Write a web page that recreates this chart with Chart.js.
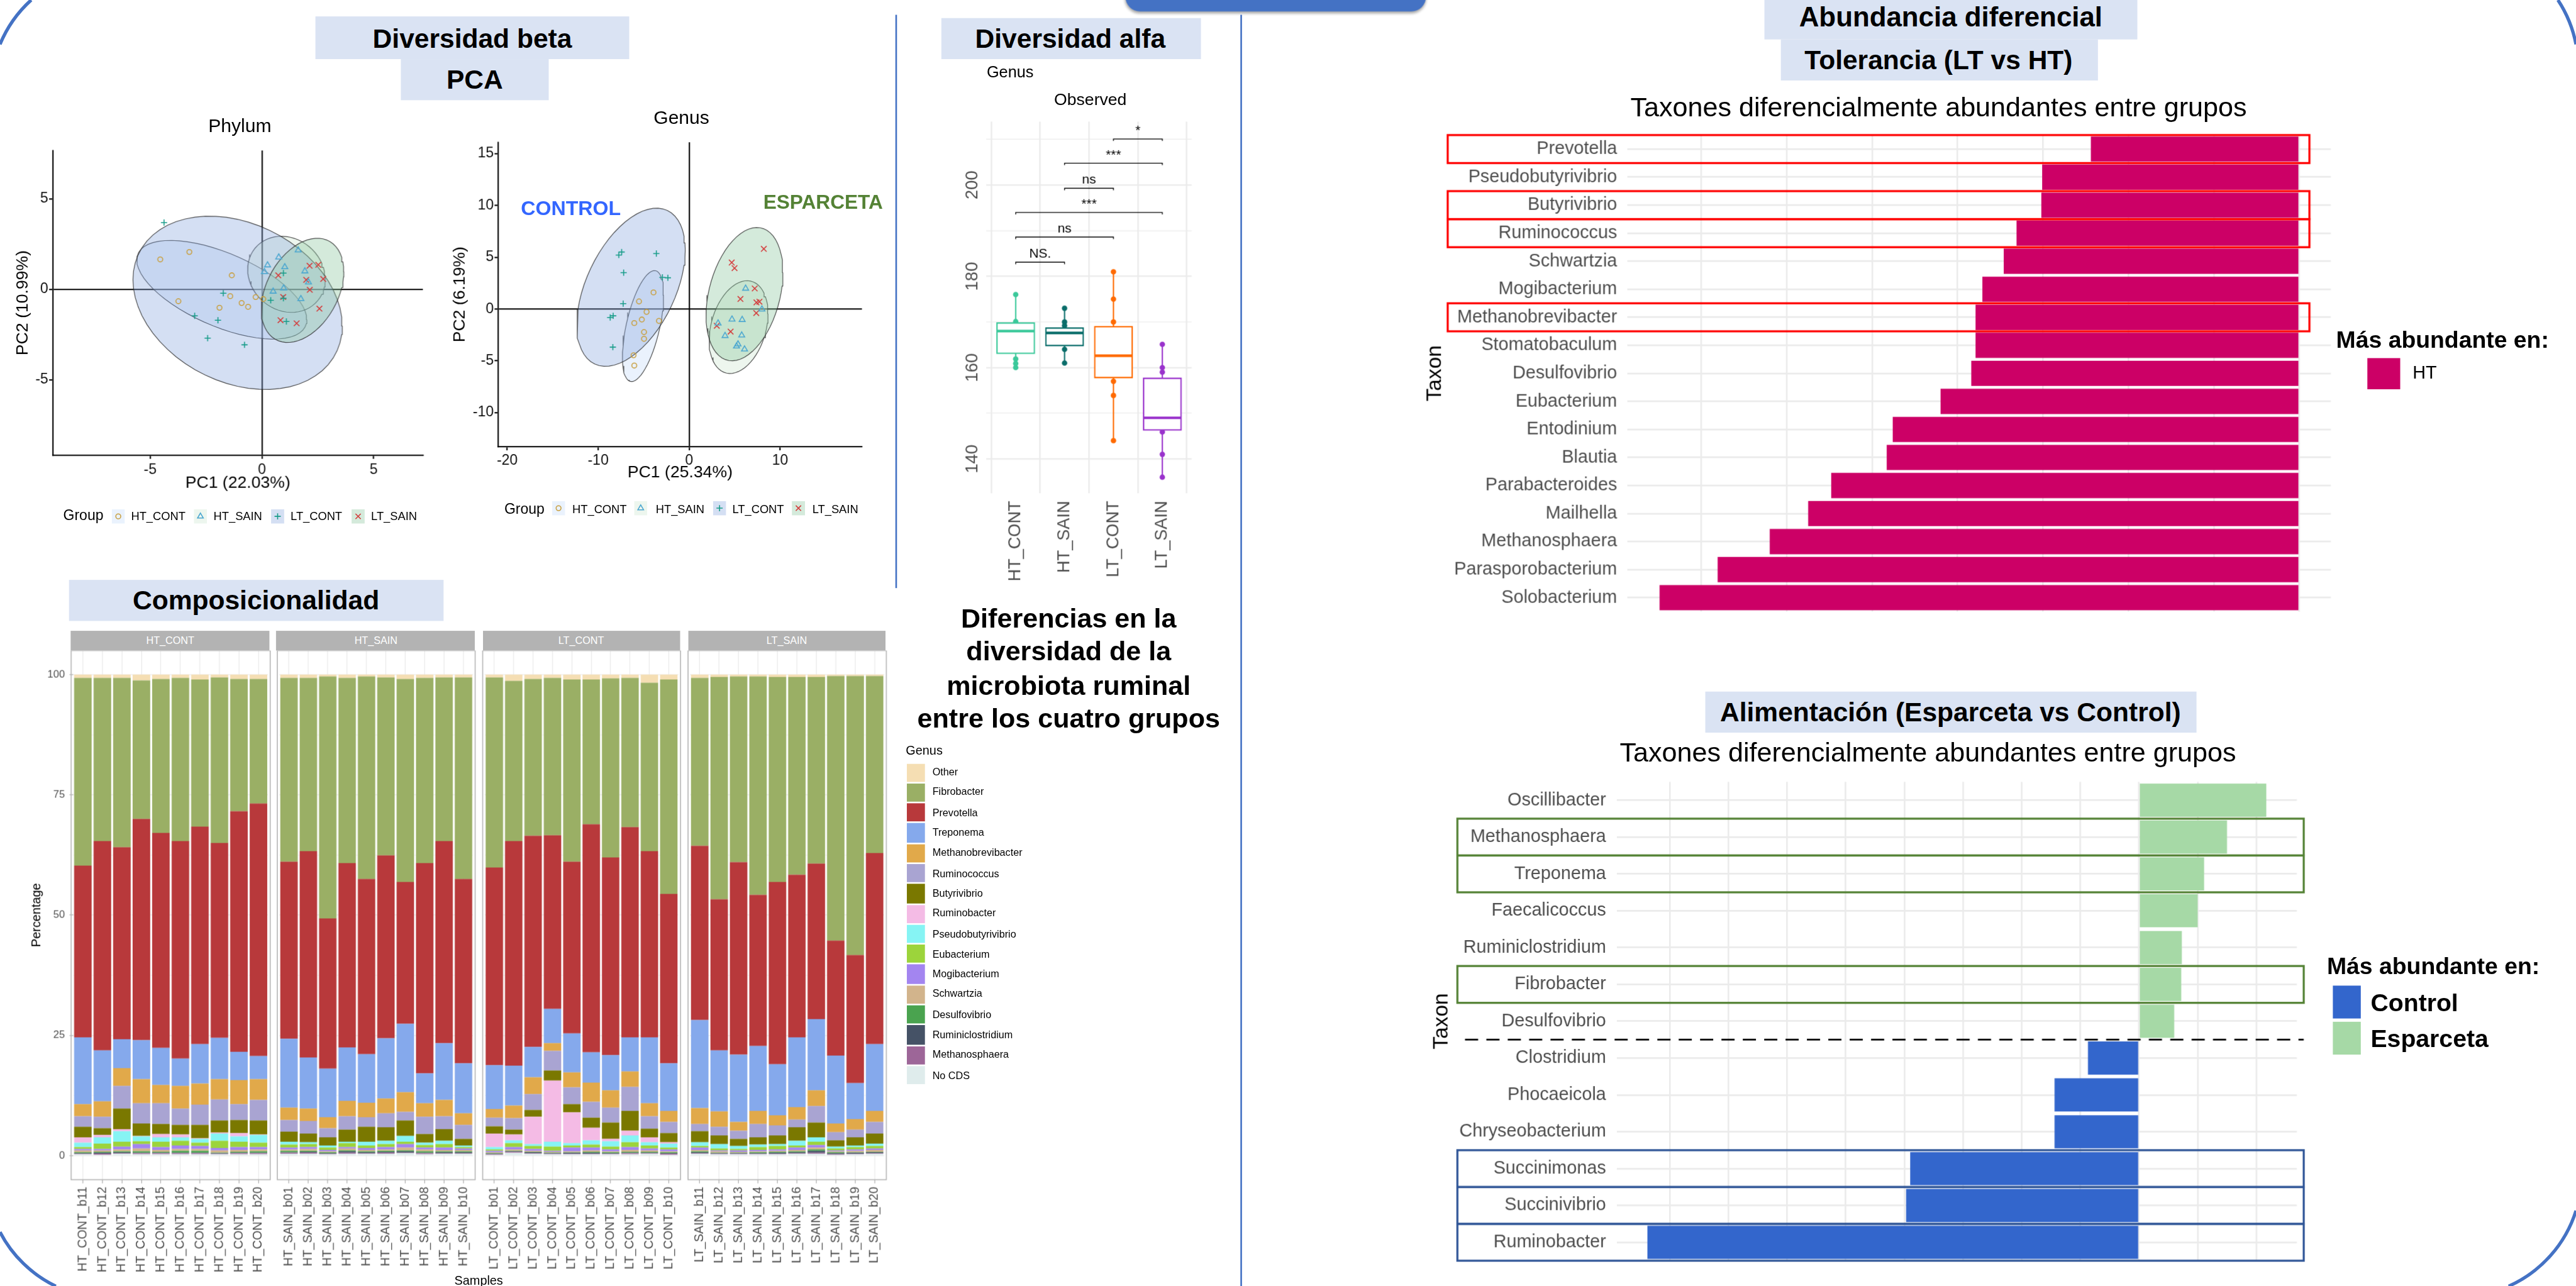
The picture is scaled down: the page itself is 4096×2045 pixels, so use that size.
<!DOCTYPE html>
<html lang="es">
<head>
<meta charset="utf-8">
<title>Diversidad de la microbiota ruminal</title>
<script src="https://cdn.jsdelivr.net/npm/chart.js@4.4.1/dist/chart.umd.min.js"></script>
<style>
  html, body { margin:0; padding:0; background:#fff; }
  body { width:4096px; height:2045px; overflow:hidden; position:relative; }
  #poster { position:absolute; left:0; top:0; width:1568px; height:783px; transform-origin:0 0;
            transform:scale(2.6122449); font-family:"Liberation Sans", Arial, Helvetica, sans-serif; color:#000; }
  .abs { position:absolute; }
  .hdr { position:absolute; background:#dae3f3; font-weight:bold; display:flex; align-items:center;
         justify-content:center; white-space:nowrap; line-height:1; }
  .t { position:absolute; white-space:nowrap; line-height:1; }
  .c { transform:translate(-50%,-50%); }
  .l { transform:translateY(-50%); }
</style>
</head>
<body>
<div id="poster"></div>
<script>
// ---------------- data ----------------
const groups = ['HT_CONT', 'HT_SAIN', 'LT_CONT', 'LT_SAIN'];

// PCA scores (PC1, PC2) per group, in the order of `groups`
const phylumPC1 = [
  [-4.55, -3.25, -1.35, -3.74, -1.42, -1.90, -0.91, -0.62, -0.28, 0.06],
  [1.62, 0.75, 0.25, 1.02, 0.11, 1.92, 2.08, 0.97, 0.50, 1.74],
  [-4.38, -1.73, 0.96, 0.39, 0.96, -3.01, -1.97, 1.09, -2.43, -0.78],
  [2.13, 2.52, 0.73, 1.98, 2.74, 2.14, 0.95, 2.57, 0.83, 1.55]
];
const phylumPC2 = [
  [1.65, 2.06, 0.77, -0.66, -0.38, -1.02, -0.76, -0.97, -0.43, -0.54],
  [2.16, 1.77, 1.33, 1.23, 0.96, 1.00, 0.39, 0.06, -0.12, -0.53],
  [3.69, -0.22, 0.89, -0.61, -0.50, -1.47, -1.71, -1.78, -2.70, -3.07],
  [1.30, 1.35, 0.77, 0.52, 0.57, -0.03, -0.43, -1.07, -1.71, -1.88]
];
const genusPC1 = [
  [-3.92, -5.51, -4.68, -5.20, -6.03, -3.32, -4.96, -4.96, -6.11, -6.03],
  [6.21, 8.00, 4.71, 5.83, 3.18, 3.95, 5.78, 5.37, 5.21, 6.09],
  [-7.42, -7.73, -3.61, -7.20, -2.94, -2.34, -7.25, -8.35, -8.68, -8.39],
  [8.21, 4.68, 4.99, 7.21, 5.64, 7.40, 7.73, 7.38, 3.04, 4.56]
];
const genusPC2 = [
  [1.60, 0.73, -0.28, -1.02, -1.36, -1.15, -2.23, -2.88, -4.47, -5.46],
  [1.98, -0.03, -1.00, -1.04, -1.38, -2.59, -2.54, -3.40, -3.60, -3.89],
  [5.50, 5.21, 5.36, 3.50, 3.05, 3.01, 0.52, -0.66, -0.82, -3.68],
  [5.81, 4.49, 3.95, 1.98, 0.97, 0.63, 0.70, -0.39, -1.62, -2.18]
];

// Alpha diversity (Observed genera): box statistics and drawn points
const obsMin    = [160.0, 161.0, 144.0, 136.0];
const obsQ1     = [163.1, 164.8, 157.8, 146.3];
const obsMedian = [168.0, 167.6, 162.6, 149.0];
const obsQ3     = [169.8, 168.7, 169.0, 157.7];
const obsMax    = [176.0, 173.0, 181.0, 165.1];
const obsPoints = [
  [176.0, 170.1, 161.9, 160.9, 160.0],
  [173.0, 170.0, 169.2, 164.0, 161.0],
  [181.0, 175.0, 170.0, 157.0, 153.9, 144.0],
  [165.1, 160.0, 159.0, 145.9, 141.0, 136.0]
];
// pairwise comparisons
const sigFrom = [1, 1, 1, 2, 2, 3];
const sigTo   = [2, 3, 4, 3, 4, 4];
const sigY    = [183.1, 188.6, 194.0, 199.3, 204.8, 210.1];
const sigText = ['NS.', 'ns', '***', 'ns', '***', '*'];

// Relative abundance (%) per sample
const samplesHT_CONT = ['HT_CONT_b11','HT_CONT_b12','HT_CONT_b13','HT_CONT_b14','HT_CONT_b15','HT_CONT_b16','HT_CONT_b17','HT_CONT_b18','HT_CONT_b19','HT_CONT_b20'];
const samplesHT_SAIN = ['HT_SAIN_b01','HT_SAIN_b02','HT_SAIN_b03','HT_SAIN_b04','HT_SAIN_b05','HT_SAIN_b06','HT_SAIN_b07','HT_SAIN_b08','HT_SAIN_b09','HT_SAIN_b10'];
const samplesLT_CONT = ['LT_CONT_b01','LT_CONT_b02','LT_CONT_b03','LT_CONT_b04','LT_CONT_b05','LT_CONT_b06','LT_CONT_b07','LT_CONT_b08','LT_CONT_b09','LT_CONT_b10'];
const samplesLT_SAIN = ['LT_SAIN_b11','LT_SAIN_b12','LT_SAIN_b13','LT_SAIN_b14','LT_SAIN_b15','LT_SAIN_b16','LT_SAIN_b17','LT_SAIN_b18','LT_SAIN_b19','LT_SAIN_b20'];

const genera = ['Other','Fibrobacter','Prevotella','Treponema','Methanobrevibacter','Ruminococcus','Butyrivibrio',
  'Ruminobacter','Pseudobutyrivibrio','Eubacterium','Mogibacterium','Schwartzia','Desulfovibrio',
  'Ruminiclostridium','Methanosphaera','No CDS'];
const genusColors = ['#f5deb3','#9aaf65','#b8393b','#85a9ec','#e1a94a','#a9a4d2','#7a7800',
  '#f4bbe5','#86f4f4','#9cd43b','#a385f0','#d2b48c','#4aa34f','#455266','#9d6698','#dfecec'];

const pctOther = [0.7,0.7,0.7,1.2,0.9,0.7,1.0,0.6,0.9,0.9, 0.7,0.7,0.4,0.7,0.4,0.6,0.9,0.7,0.6,0.6, 0.6,1.3,0.9,0.7,1.0,1.0,0.8,0.7,1.7,1.0, 0.7,0.5,0.4,0.4,0.5,0.5,0.5,0.3,0.3,0.3];
const pctFibrobacter = [39.0,33.9,35.2,28.8,32.0,33.9,30.6,34.4,27.5,25.9, 38.2,36.0,50.3,38.5,42.1,37.0,42.2,38.5,34.0,41.9, 39.5,33.3,32.6,32.7,37.9,30.1,37.2,31.0,35.0,44.6, 34.9,46.2,38.6,45.4,42.6,41.1,38.8,55.0,58.0,36.8];
const pctPrevotella = [35.7,43.5,39.9,46.0,44.7,45.2,45.2,40.5,50.0,52.5, 36.8,42.9,31.2,38.3,36.4,38.0,29.5,43.7,42.0,38.3, 41.1,46.7,43.9,36.1,35.7,47.4,41.1,43.7,38.7,35.2, 36.2,31.4,40.0,31.4,37.9,33.8,32.3,23.9,26.6,39.7];
const pctTreponema = [13.9,10.6,6.0,8.1,7.7,5.7,8.2,8.6,5.9,4.8, 14.3,10.6,10.1,11.1,10.1,12.5,14.2,6.2,11.8,10.4, 9.1,8.3,6.3,7.1,8.1,6.3,7.3,7.1,13.7,9.9, 18.3,12.7,14.0,13.5,10.6,14.5,14.8,14.1,7.5,13.9];
const pctMethanobrevibacter = [2.5,3.2,3.7,5.0,3.8,4.7,4.4,4.2,5.0,4.3, 2.6,2.6,2.3,3.2,3.0,3.1,4.1,2.8,3.4,2.4, 1.8,2.6,3.5,1.6,3.1,4.0,3.6,3.2,2.7,2.3, 3.3,3.2,1.8,2.7,2.1,2.6,3.3,1.8,2.2,2.3];
const pctRuminococcus = [2.2,2.4,4.7,4.2,4.3,3.4,4.2,4.4,3.3,4.3, 2.4,2.6,1.9,2.8,2.0,2.9,1.8,3.6,2.7,2.9, 1.8,2.4,3.3,4.1,3.5,3.3,3.1,5.0,2.6,2.3, 1.5,1.8,1.7,2.8,2.1,1.6,3.4,1.7,1.6,2.4];
const pctButyrivibrio = [2.2,1.4,4.3,2.6,2.1,2.0,2.8,2.5,2.7,2.9, 2.1,1.8,1.7,2.5,3.1,2.8,3.2,1.8,2.4,1.4, 1.5,1.0,1.4,2.1,1.7,2.1,3.4,4.1,1.8,1.9, 2.3,1.8,1.5,1.5,1.8,2.8,3.1,1.3,1.7,2.1];
const pctRuminobacter = [1.1,0.5,0.4,0.1,0.7,0.6,0.1,0.2,0.7,0.1, 0,0,0,0,0,0,0,0,0,0, 2.8,1.2,5.7,12.7,6.4,2.6,0.5,1.0,1.0,0.3, 0,0,0,0,0,0,0,0,0,0];
const pctPseudobutyrivibrio = [0.9,1.3,2.2,1.0,0.9,0.7,0.8,1.5,1.1,1.6, 0.6,0.4,0.4,0.3,0.8,0.7,1.2,0.5,0.7,0.3, 0.5,0.6,0.4,1.0,0.5,0.9,1.1,1.4,0.7,0.8, 0.8,0.9,0.6,0.5,0.4,1.0,0.9,0.4,0.3,0.5];
const pctEubacterium = [0.4,1.1,1.0,0.6,1.1,1.0,0.7,1.5,1.1,0.9, 0.6,0.6,0.5,0.8,0.5,0.6,0.5,0.5,0.7,0.3, 0.3,0.8,0.6,0.9,0.4,0.6,0.6,1.0,0.6,0.4, 0.3,0.4,0.3,0.6,0.7,0.4,0.7,0.4,0.5,0.5];
const pctMogibacterium = [0.3,0.3,0.6,0.9,0.6,0.7,0.6,0.5,0.6,0.5, 0.4,0.4,0.3,0.3,0.4,0.5,0.7,0.4,0.5,0.3, 0.3,0.5,0.4,0.2,0.8,0.6,0.4,0.6,0.4,0.4, 0.5,0.2,0.3,0.3,0.3,0.5,0.5,0.2,0.3,0.3];
const pctSchwartzia = [0.4,0.3,0.4,0.6,0.4,0.4,0.4,0.5,0.4,0.4, 0.3,0.4,0.2,0.4,0.3,0.3,0.6,0.4,0.3,0.3, 0.2,0.3,0.2,0.2,0.2,0.3,0.2,0.4,0.3,0.2, 0.3,0.3,0.2,0.2,0.2,0.3,0.4,0.2,0.3,0.4];
const pctDesulfovibrio = [0.2,0.2,0.2,0.3,0.2,0.4,0.4,0.1,0.2,0.3, 0.3,0.2,0.2,0.2,0.2,0.2,0.2,0.3,0.2,0.2, 0.1,0.1,0.1,0.1,0.1,0.2,0.2,0.2,0.2,0.2, 0.2,0.1,0.1,0.2,0.2,0.2,0.3,0.2,0.1,0.1];
const pctRuminiclostridium = [0.1,0.2,0.2,0.1,0.1,0.1,0.1,0.1,0.1,0.1, 0.1,0.2,0.1,0.3,0.2,0.2,0.3,0.1,0.2,0.2, 0.1,0.1,0.2,0.1,0.2,0.2,0.1,0.1,0.1,0.1, 0.2,0.1,0.1,0.1,0.2,0.2,0.4,0.2,0.2,0.2];
const pctMethanosphaera = [0.1,0.2,0.1,0.2,0.2,0.2,0.2,0.1,0.2,0.2, 0.2,0.2,0.1,0.2,0.1,0.2,0.1,0.2,0.1,0.1, 0.1,0.2,0.1,0.1,0.1,0.1,0.1,0.2,0.1,0.2, 0.1,0.1,0.1,0.1,0.1,0.1,0.2,0.1,0.1,0.1];
const pctNoCDS = [0.3,0.2,0.4,0.3,0.3,0.3,0.3,0.3,0.3,0.3, 0.4,0.4,0.3,0.4,0.4,0.4,0.5,0.3,0.4,0.4, 0.2,0.6,0.4,0.3,0.3,0.3,0.3,0.3,0.4,0.2, 0.4,0.3,0.3,0.3,0.3,0.4,0.4,0.2,0.3,0.4];
const genusSeries = [pctOther, pctFibrobacter, pctPrevotella, pctTreponema, pctMethanobrevibacter, pctRuminococcus,
  pctButyrivibrio, pctRuminobacter, pctPseudobutyrivibrio, pctEubacterium, pctMogibacterium, pctSchwartzia,
  pctDesulfovibrio, pctRuminiclostridium, pctMethanosphaera, pctNoCDS];

// Differential abundance: tolerance (LT vs HT)
const taxaTolerance = ['Prevotella','Pseudobutyrivibrio','Butyrivibrio','Ruminococcus','Schwartzia','Mogibacterium',
  'Methanobrevibacter','Stomatobaculum','Desulfovibrio','Eubacterium','Entodinium','Blautia','Parabacteroides',
  'Mailhella','Methanosphaera','Parasporobacterium','Solobacterium'];
const scoreTolerance = [-2.44,-3.01,-3.02,-3.31,-3.46,-3.71,-3.79,-3.79,-3.84,-4.20,-4.76,-4.83,-5.48,-5.75,-6.20,-6.81,-7.49];
const markedTolerance = ['Prevotella','Butyrivibrio','Ruminococcus','Methanobrevibacter'];

// Differential abundance: diet (Esparceta vs Control)
const taxaDiet = ['Oscillibacter','Methanosphaera','Treponema','Faecalicoccus','Ruminiclostridium','Fibrobacter',
  'Desulfovibrio','Clostridium','Phocaeicola','Chryseobacterium','Succinimonas','Succinivibrio','Ruminobacter'];
const scoreDiet = [2.17,1.50,1.11,1.00,0.73,0.72,0.60,-0.87,-1.44,-1.44,-3.90,-3.97,-8.38];
const enrichedDiet = ['Esparceta','Esparceta','Esparceta','Esparceta','Esparceta','Esparceta','Esparceta',
  'Control','Control','Control','Control','Control','Control'];
const markedEsparceta = ['Methanosphaera','Treponema','Fibrobacter'];
const markedControl = ['Succinimonas','Succinivibrio','Ruminobacter'];

// ---------------- styling ----------------
const SCALE = 4096 / 1568;
const pointColors = ['#c8a042', '#4aa6d0', '#179c89', '#d43a3a'];
const pointStyles = ['circle', 'triangle', 'cross', 'crossRot'];
const pointSizes = [1.5, 2.1, 1.9, 2.4];
const ellipseFill = ['rgba(195,218,250,0.35)', 'rgba(204,229,206,0.35)', 'rgba(132,164,221,0.35)', 'rgba(132,195,152,0.35)'];
const legendKeyFill = ['#eaf2fd', '#edf6ee', '#d4dff3', '#d4eadb'];
const boxColors = ['#3cc99b', '#0b6e6b', '#ff6a00', '#9a33cc'];
const dietColors = { Control: '#3366cc', Esparceta: '#a6d9a6' };

Chart.defaults.font.family = '"Liberation Sans", Arial, Helvetica, sans-serif';
Chart.defaults.color = '#4d4d4d';

const poster = document.getElementById('poster');
function el(tag, cls, css, html) {
  const e = document.createElement(tag);
  if (cls) e.className = cls;
  Object.assign(e.style, css || {});
  if (html !== undefined) e.innerHTML = html;
  poster.appendChild(e);
  return e;
}
function header(text, l, t, w, h, size) {
  el('div', 'hdr', { left: l + 'px', top: t + 'px', width: w + 'px', height: h + 'px', fontSize: size + 'px' }, text);
}
function text(str, x, y, size, o = {}) {
  const e = el('div', 't ' + (o.left ? 'l' : 'c'), {
    left: x + 'px', top: y + 'px', fontSize: size + 'px',
    fontWeight: o.bold ? 'bold' : 'normal', color: o.color || '#000'
  });
  e.textContent = str;
  return e;
}
function canvasAt(l, t, w, h) {
  const d = el('div', 'abs', { left: l + 'px', top: t + 'px', width: w + 'px', height: h + 'px' });
  const c = document.createElement('canvas');
  d.appendChild(c);
  return c;
}
function common() {
  return { responsive: true, maintainAspectRatio: false, animation: false, devicePixelRatio: SCALE, events: [] };
}
const fixedTicks = vals => s => { s.ticks = vals.map(v => ({ value: v })); };
// axis boxes of fixed size, without the extra room Chart.js keeps for overhanging labels
const fitWidth = w => s => { s.width = w; s.paddingTop = 0; s.paddingBottom = 0; };
const fitHeight = h => s => { s.height = h; s.paddingLeft = 0; s.paddingRight = 0; };

// ---------------- frame, separators, headers ----------------
el('div', 'abs', { left: '685px', top: '-12px', width: '183px', height: '19px', background: '#4472c4',
  borderRadius: '0 0 9px 9px', boxShadow: '0 1.2px 1.8px rgba(0,0,0,0.35)' });
el('div', 'abs', { left: '544.6px', top: '8.7px', width: '1.7px', height: '349.5px', background: '#4472c4' });
el('div', 'abs', { left: '754.8px', top: '8.9px', width: '1.7px', height: '775px', background: '#4472c4' });
el('div', 'abs', { left: '0px', top: '0px' },
  '<svg width="1568" height="783" style="overflow:visible;display:block" fill="none" stroke="#4472c4" stroke-width="2">' +
  '<path d="M 0 27 A 75 75 0 0 1 19 0"/><path d="M 0 750 A 75 75 0 0 0 34 783"/>' +
  '<path d="M 1557 0 A 75 75 0 0 1 1568 27"/><path d="M 1568 737 A 75 75 0 0 1 1527 783"/></svg>');

header('Diversidad beta', 192, 10.4, 191, 25.4, 16.3);
header('PCA', 244, 35.8, 90, 24.9, 16.3);
header('Diversidad alfa', 572.5, 10.5, 158, 25.3, 16.3);
header('Composicionalidad', 42, 353, 227.7, 25, 16.3);
header('Abundancia diferencial', 1073.7, 0, 227.5, 23.5, 16.8);
header('Tolerancia (LT vs HT)', 1083.5, 23.5, 193, 25.1, 16.3);
header('Alimentación (Esparceta vs Control)', 1037.8, 421, 298.9, 25.2, 16.3);

const blurb = el('div', 'abs', { left: '540px', top: '366.4px', width: '221px', textAlign: 'center',
  fontWeight: 'bold', fontSize: '16.5px', lineHeight: '20.1px', whiteSpace: 'nowrap' });
blurb.innerHTML = 'Diferencias en la<br>diversidad de la<br>microbiota ruminal<br>entre los cuatro grupos';

// ---------------- PCA ----------------
// 95 % normal confidence ellipse of each group (chi-square, 2 df), built from the group's covariance
function confidenceEllipse(xs, ys) {
  const n = xs.length;
  const mx = xs.reduce((a, b) => a + b, 0) / n, my = ys.reduce((a, b) => a + b, 0) / n;
  let sxx = 0, syy = 0, sxy = 0;
  for (let k = 0; k < n; k++) {
    sxx += (xs[k] - mx) ** 2; syy += (ys[k] - my) ** 2; sxy += (xs[k] - mx) * (ys[k] - my);
  }
  sxx /= n - 1; syy /= n - 1; sxy /= n - 1;
  const r11 = Math.sqrt(sxx), r12 = sxy / r11, r22 = Math.sqrt(syy - r12 * r12);
  const radius = Math.sqrt(-2 * Math.log(0.05));
  const pts = [];
  const segments = 60;
  for (let k = 0; k <= segments; k++) {
    const t = 2 * Math.PI * k / segments, c = Math.cos(t), s = Math.sin(t);
    pts.push({ x: mx + radius * c * r11, y: my + radius * (c * r12 + s * r22) });
  }
  return pts;
}

function pcaChart(canvas, pc1, pc2, cfg) {
  const datasets = [];
  groups.forEach((g, i) => datasets.push({
    type: 'line', data: confidenceEllipse(pc1[i], pc2[i]), borderColor: 'rgba(35,35,35,0.8)', borderWidth: 0.45,
    backgroundColor: ellipseFill[i], fill: 'shape', pointRadius: 0, tension: 0, order: 5 - i
  }));
  groups.forEach((g, i) => datasets.push({
    type: 'scatter', label: g, data: pc1[i].map((x, k) => ({ x, y: pc2[i][k] })), pointStyle: pointStyles[i],
    pointRadius: pointSizes[i], borderColor: pointColors[i], backgroundColor: 'rgba(0,0,0,0)', borderWidth: 0.6, order: 1
  }));
  const axis = (min, max, ticks, title, sizeCb, pad) => ({
    type: 'linear', min, max, afterBuildTicks: fixedTicks(ticks), afterFit: sizeCb,
    grid: { color: c => (c.tick && c.tick.value === 0 ? '#000' : 'rgba(0,0,0,0)'), lineWidth: 0.8,
            tickColor: '#000', tickLength: 2.2, drawTicks: true },
    border: { display: true, color: '#000', width: 0.8 },
    ticks: { font: { size: 8.8 }, color: '#111', padding: pad, maxRotation: 0, autoSkip: false },
    title: { display: true, text: title, font: { size: 10.2 }, color: '#000', padding: 0 }
  });
  new Chart(canvas, {
    type: 'scatter',
    data: { datasets },
    options: Object.assign(common(), {
      layout: { padding: { left: 0, top: 0, right: 2, bottom: 0 } },
      plugins: { legend: { display: false }, tooltip: { enabled: false } },
      scales: {
        x: axis(cfg.xMin, cfg.xMax, cfg.xTicks, cfg.xTitle, fitHeight(cfg.xAxisH), cfg.xPad),
        y: axis(cfg.yMin, cfg.yMax, cfg.yTicks, cfg.yTitle, fitWidth(cfg.yAxisW), 0.5)
      }
    })
  });
}

pcaChart(canvasAt(7.8, 86.7, 254.2, 213.3), phylumPC1, phylumPC2, {
  xMin: -9.36, xMax: 7.2, xTicks: [-5, 0, 5], yMin: -9.17, yMax: 7.67, yTicks: [-5, 0, 5],
  xTitle: 'PC1 (22.03%)', yTitle: 'PC2 (10.99%)', xAxisH: 23, yAxisW: 24.1, xPad: 1.6
});
pcaChart(canvasAt(273.8, 82, 255.2, 212.1), genusPC1, genusPC2, {
  xMin: -21, xMax: 19, xTicks: [-20, -10, 0, 10], yMin: -13.3, yMax: 16.1, yTicks: [-10, -5, 0, 5, 10, 15],
  xTitle: 'PC1 (25.34%)', yTitle: 'PC2 (6.19%)', xAxisH: 22.1, yAxisW: 29.2, xPad: 1.1
});
text('Phylum', 146, 77, 11.5);
text('Genus', 414.8, 72.2, 11.5);
text('CONTROL', 347.5, 127, 12.3, { bold: true, color: '#3366ff' });
text('ESPARCETA', 501, 123, 12.1, { bold: true, color: '#548235' });

function keySvg(i) {
  const w = 8, h = 8.7, cx = 4, cy = 4.35, col = pointColors[i];
  let sym = '';
  if (i === 0) sym = `<circle cx="${cx}" cy="${cy}" r="1.5" fill="none" stroke="${col}" stroke-width="0.6"/>`;
  if (i === 1) sym = `<polygon points="${cx},${cy - 2} ${cx + 1.75},${cy + 1} ${cx - 1.75},${cy + 1}" fill="none" stroke="${col}" stroke-width="0.6"/>`;
  if (i === 2) sym = `<path d="M${cx - 1.9} ${cy}H${cx + 1.9}M${cx} ${cy - 1.9}V${cy + 1.9}" stroke="${col}" stroke-width="0.6"/>`;
  if (i === 3) sym = `<path d="M${cx - 1.6} ${cy - 1.6}L${cx + 1.6} ${cy + 1.6}M${cx + 1.6} ${cy - 1.6}L${cx - 1.6} ${cy + 1.6}" stroke="${col}" stroke-width="0.6"/>`;
  return `<svg width="${w}" height="${h}" viewBox="0 0 ${w} ${h}" style="display:block"><rect width="${w}" height="${h}" fill="${legendKeyFill[i]}"/>${sym}</svg>`;
}
function pcaLegend(y, groupX, keyX, labelX) {
  text('Group', groupX, y, 8.8, { left: true });
  groups.forEach((g, i) => {
    el('div', 'abs', { left: keyX[i] + 'px', top: (y - 4.35) + 'px' }, keySvg(i));
    text(g, labelX[i], y, 7, { left: true });
  });
}
pcaLegend(314.4, 38.5, [67.6, 118, 164.6, 213.6], [79.8, 130, 176.9, 225.9]);
pcaLegend(309.6, 307, [335.5, 386.3, 433.5, 482.2], [348.4, 399.2, 445.8, 494.5]);

// ---------------- alpha diversity ----------------
const sigLabels = {
  id: 'sigLabels',
  afterDatasetsDraw(chart) {
    const { ctx } = chart, xs = chart.scales.x, ys = chart.scales.y;
    ctx.save();
    ctx.fillStyle = '#000';
    ctx.font = '8px "Liberation Sans", Arial, sans-serif';
    ctx.textAlign = 'center';
    ctx.textBaseline = 'bottom';
    sigText.forEach((t, k) => {
      const x = (xs.getPixelForValue(sigFrom[k]) + xs.getPixelForValue(sigTo[k])) / 2;
      ctx.fillText(t, x, ys.getPixelForValue(sigY[k]) - 0.9);
    });
    ctx.restore();
  }
};
(function () {
  const ds = [];
  groups.forEach((g, i) => ds.push({
    type: 'scatter', data: obsPoints[i].map(v => ({ x: i + 1, y: v })), pointRadius: 1.65,
    backgroundColor: boxColors[i], borderColor: boxColors[i], borderWidth: 0, order: 4
  }));
  groups.forEach((g, i) => ds.push({
    type: 'line', data: [{ x: i + 1, y: obsMax[i] }, { x: i + 1, y: obsQ3[i] }, { x: i + 1, y: null },
      { x: i + 1, y: obsQ1[i] }, { x: i + 1, y: obsMin[i] }],
    borderColor: boxColors[i], borderWidth: 0.8, pointRadius: 0, spanGaps: false, fill: false, order: 3
  }));
  ds.push({
    type: 'bar', data: groups.map((g, i) => ({ x: i + 1, y: [obsQ1[i], obsQ3[i]] })), backgroundColor: '#fff',
    borderColor: boxColors, borderWidth: 0.85, borderSkipped: false, barThickness: 23, order: 2
  });
  groups.forEach((g, i) => ds.push({
    type: 'line', data: [{ x: i + 1 - 0.38, y: obsMedian[i] }, { x: i + 1 + 0.38, y: obsMedian[i] }],
    borderColor: boxColors[i], borderWidth: 1.6, pointRadius: 0, fill: false, order: 1
  }));
  sigText.forEach((t, k) => ds.push({
    type: 'line', data: [{ x: sigFrom[k], y: sigY[k] - 0.45 }, { x: sigFrom[k], y: sigY[k] },
      { x: sigTo[k], y: sigY[k] }, { x: sigTo[k], y: sigY[k] - 0.45 }],
    borderColor: '#000', borderWidth: 0.5, pointRadius: 0, fill: false, order: 1
  }));
  new Chart(canvasAt(585, 69.6, 144.3, 288.4), {
    type: 'scatter',
    data: { datasets: ds },
    options: Object.assign(common(), {
      layout: { padding: { left: 0, top: 0, right: 2, bottom: 0 } },
      plugins: { legend: { display: false }, tooltip: { enabled: false } },
      scales: {
        x: {
          type: 'linear', min: 0.394, max: 4.6, offset: false, afterBuildTicks: fixedTicks([1, 2, 3, 4]),
          afterFit: fitHeight(58),
          grid: { color: '#ebebeb', lineWidth: 0.9, drawTicks: false },
          border: { display: false },
          ticks: { callback: v => groups[v - 1], autoSkip: false, minRotation: 90, maxRotation: 90,
                   font: { size: 10.4 }, color: '#4d4d4d', padding: 4.7 }
        },
        y: {
          type: 'linear', min: 132.5, max: 213.9,
          afterBuildTicks: fixedTicks([140, 150, 160, 170, 180, 190, 200, 210]),
          afterFit: fitWidth(15.2),
          grid: { color: '#ebebeb', lineWidth: c => (c.tick && c.tick.value % 20 === 0 ? 0.9 : 0.45), drawTicks: false },
          border: { display: false },
          ticks: { callback: v => (v % 20 === 0 ? String(v) : ''), minRotation: 90, maxRotation: 90,
                   crossAlign: 'center', font: { size: 10.5 }, color: '#4d4d4d', padding: -0.55 }
        }
      }
    }),
    plugins: [sigLabels]
  });
})();
text('Genus', 600.6, 43.9, 9.7, { left: true });
text('Observed', 663.7, 61.4, 10.2);

// ---------------- composition (stacked bars, one facet per group) ----------------
const panelSamples = [samplesHT_CONT, samplesHT_SAIN, samplesLT_CONT, samplesLT_SAIN];
const panelLeft = [43.4, 168.4, 293.5, 418.5];
const panelRight = [163.9, 289.3, 414.0, 539.3];
const panelFrame = {
  id: 'panelFrame',
  afterDraw(chart, args, o) {
    const { ctx, chartArea: a } = chart;
    ctx.save();
    ctx.strokeStyle = '#b3b3b3';
    ctx.lineWidth = 0.6;
    ctx.strokeRect(a.left - o.inset, a.top, a.right - a.left + 2 * o.inset, a.bottom - a.top);
    ctx.restore();
  }
};
panelSamples.forEach((labels, p) => {
  const inner = 1.2;
  const areaL = panelLeft[p] + inner, areaR = panelRight[p] - inner;
  const first = p === 0;
  const canvasL = first ? 18.24 : areaL - 2;
  const cv = canvasAt(canvasL, 395.6, areaR + 2 - canvasL, 322.1 + 62);
  const datasets = genusSeries.map((arr, gi) => ({
    label: genera[gi], data: arr.slice(p * 10, p * 10 + 10), backgroundColor: genusColors[gi],
    borderWidth: 0, barPercentage: 0.9, categoryPercentage: 1
  })).reverse();
  new Chart(cv, {
    type: 'bar',
    data: { labels, datasets },
    options: Object.assign(common(), {
      layout: { padding: { left: first ? 0 : 2, top: 0, right: 2, bottom: 0 } },
      plugins: { legend: { display: false }, tooltip: { enabled: false }, panelFrame: { inset: inner } },
      scales: {
        x: {
          stacked: true, afterFit: fitHeight(62),
          grid: { offset: false, color: '#ebebeb', lineWidth: 0.5, tickColor: '#b3b3b3', tickLength: 2.2 },
          border: { display: false },
          ticks: { autoSkip: false, minRotation: 90, maxRotation: 90, font: { size: 7.5 }, color: '#4d4d4d', padding: 2.1 }
        },
        y: {
          stacked: true, min: -5, max: 105,
          afterBuildTicks: fixedTicks([0, 12.5, 25, 37.5, 50, 62.5, 75, 87.5, 100]),
          afterFit: fitWidth(first ? areaL - canvasL : 0),
          grid: { color: '#ebebeb', lineWidth: c => (c.tick && c.tick.value % 25 === 0 ? 0.5 : 0.25),
                  tickColor: c => (c.tick && c.tick.value % 25 === 0 ? '#b3b3b3' : 'rgba(0,0,0,0)'),
                  tickLength: 2.2, drawTicks: first },
          border: { display: false },
          ticks: { display: first, callback: v => (v % 25 === 0 ? String(v) : ''), font: { size: 6.3 },
                   color: '#4d4d4d', padding: 2.8 },
          title: { display: first, text: 'Percentage', font: { size: 7.6 }, color: '#000', padding: 0 }
        }
      }
    }),
    plugins: [panelFrame]
  });
  const strip = el('div', 'abs', { left: panelLeft[p] + 'px', top: '383.7px', width: (panelRight[p] - panelLeft[p]) + 'px',
    height: '11.9px', background: '#b3b3b3', color: '#fff', fontSize: '6.2px', display: 'flex',
    alignItems: 'center', justifyContent: 'center', lineHeight: '1' });
  strip.textContent = groups[p];
});
text('Samples', 291.4, 780.2, 7.6);

// genus legend
text('Genus', 551.4, 456.5, 7.6, { left: true });
genera.forEach((g, k) => {
  const yc = 470.2 + k * 12.29;
  el('div', 'abs', { left: '551.7px', top: (yc - 5.65) + 'px', width: '11.3px', height: '11.3px', background: genusColors[k] });
  text(g, 567.6, yc, 6.2, { left: true });
});

// ---------------- differential abundance ----------------
const rowBoxes = {
  id: 'rowBoxes',
  afterDatasetsDraw(chart, args, o) {
    const { ctx } = chart, y = chart.scales.y;
    const labels = chart.data.labels;
    const step = Math.abs(y.getPixelForValue(1) - y.getPixelForValue(0));
    ctx.save();
    if (o.divider) {
      const yd = (y.getPixelForValue(labels.indexOf(o.divider[0])) + y.getPixelForValue(labels.indexOf(o.divider[1]))) / 2;
      ctx.strokeStyle = '#000';
      ctx.lineWidth = 1.1;
      ctx.setLineDash([8, 5]);
      ctx.beginPath();
      ctx.moveTo(o.dividerX0, yd);
      ctx.lineTo(o.x1, yd);
      ctx.stroke();
      ctx.setLineDash([]);
    }
    ctx.lineWidth = o.lineWidth;
    o.rows.forEach(r => {
      const i = labels.indexOf(r.label);
      if (i < 0) return;
      const yc = y.getPixelForValue(i);
      ctx.strokeStyle = r.color;
      ctx.strokeRect(o.x0, yc - step / 2, o.x1 - o.x0, step);
    });
    ctx.restore();
  }
};
function daChart(canvas, labels, values, colors, cfg) {
  new Chart(canvas, {
    type: 'bar',
    data: { labels, datasets: [{ data: values, backgroundColor: colors, borderWidth: 0, barPercentage: 0.9, categoryPercentage: 1 }] },
    options: Object.assign(common(), {
      indexAxis: 'y',
      layout: { padding: cfg.padding },
      plugins: { legend: { display: false }, tooltip: { enabled: false }, rowBoxes: cfg.boxes },
      scales: {
        x: {
          type: 'linear', min: cfg.xMin, max: cfg.xMax, afterBuildTicks: fixedTicks(cfg.xTicks),
          afterFit: fitHeight(0),
          ticks: { display: false },
          grid: { color: '#ebebeb', lineWidth: 1, drawTicks: false },
          border: { display: false }
        },
        y: {
          afterFit: fitWidth(cfg.yAxisW),
          ticks: { autoSkip: false, font: { size: 11 }, color: '#4d4d4d', padding: cfg.tickPad },
          grid: { offset: false, color: '#ebebeb', lineWidth: 1.1, drawTicks: false },
          border: { display: false },
          title: { display: true, text: 'Taxon', font: { size: 12.8 }, color: '#000', padding: 0 }
        }
      }
    }),
    plugins: [rowBoxes]
  });
}
daChart(canvasAt(866.4, 78, 553.6, 297.4), taxaTolerance, scoreTolerance, '#cc0066', {
  padding: { left: 0, top: 4.2, right: 1.3, bottom: 3 }, xMin: -7.87, xMax: 0.37,
  xTicks: [-7, -6, -5, -4, -3, -2, -1, 0], yAxisW: 124.3, tickPad: 6.1,
  boxes: { x0: 15.2, x1: 539.3, lineWidth: 1.25, rows: markedTolerance.map(t => ({ label: t, color: '#ff0000' })) }
});
daChart(canvasAt(870.1, 470, 533.9, 300), taxaDiet, scoreDiet, enrichedDiet.map(g => dietColors[g]), {
  padding: { left: 0, top: 5.9, right: 6.2, bottom: 2.8 }, xMin: -8.9, xMax: 2.69,
  xTicks: [-8, -7, -6, -5, -4, -3, -2, -1, 0, 1, 2], yAxisW: 114.1, tickPad: 6.6,
  boxes: { x0: 17.1, x1: 531.9, lineWidth: 1.25, divider: ['Desulfovibrio', 'Clostridium'], dividerX0: 21.7,
    rows: markedEsparceta.map(t => ({ label: t, color: '#548235' }))
      .concat(markedControl.map(t => ({ label: t, color: '#2f5597' }))) }
});
text('Taxones diferencialmente abundantes entre grupos', 1180, 64.8, 16.5);
text('Taxones diferencialmente abundantes entre grupos', 1173.5, 457.8, 16.5);

// legends
text('Más abundante en:', 1422, 206.7, 14.3, { left: true, bold: true });
el('div', 'abs', { left: '1440.7px', top: '217.6px', width: '20.1px', height: '19.4px', background: '#cc0066' });
text('HT', 1468.6, 227.3, 11, { left: true });
text('Más abundante en:', 1416.4, 588.2, 14.3, { left: true, bold: true });
el('div', 'abs', { left: '1419.7px', top: '600.3px', width: '17.7px', height: '19.7px', background: dietColors.Control });
el('div', 'abs', { left: '1419.7px', top: '622.4px', width: '17.7px', height: '19.6px', background: dietColors.Esparceta });
text('Control', 1443, 610.2, 15, { left: true, bold: true });
text('Esparceta', 1443, 632.2, 15, { left: true, bold: true });
</script>
</body>
</html>
